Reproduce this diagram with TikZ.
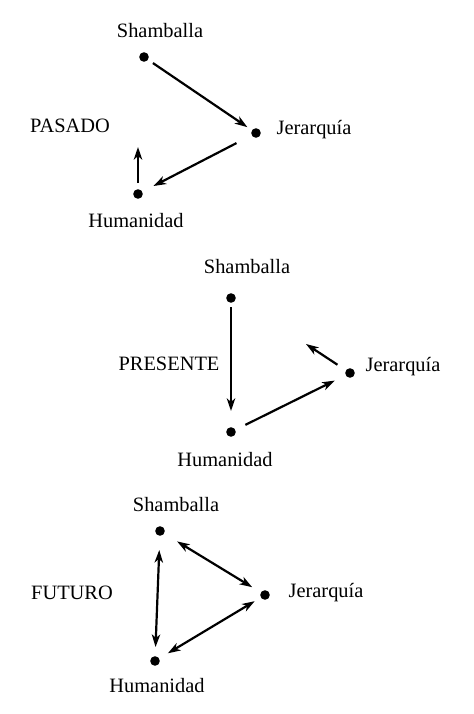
\documentclass[tikz,border=0pt]{standalone}
\usepackage{fontspec}
\setmainfont{Liberation Serif}
\usetikzlibrary{arrows.meta}
\begin{document}
\begin{tikzpicture}[x=0.5pt,y=-0.5pt,
  dot/.style={circle,fill=black,inner sep=0pt,minimum size=4.8pt,outer sep=0pt},
  lbl/.style={inner sep=0pt,font=\fontsize{10.2}{12}\selectfont},
  tip/.style={Stealth[length=6.3pt,width=4.2pt,inset=1.8pt]},
  arr/.style={line width=1.1pt,-{Stealth[length=6.3pt,width=4.2pt,inset=1.8pt]}},
  darr/.style={line width=1.1pt,{Stealth[length=6.3pt,width=4.2pt,inset=1.8pt]}-{Stealth[length=6.3pt,width=4.2pt,inset=1.8pt]}}]
\useasboundingbox (0,0) rectangle (474,714);
% ---------- PASADO ----------
\node[dot] (s1) at (144,57) {};
\node[dot] (j1) at (256,133) {};
\node[dot] (h1) at (138,194) {};
\node[lbl] (ts1) at (160,31) {Shamballa};
\node[lbl] (tj1) at (314,130) {Jerarquía};
\node[lbl] (th1) at (136,221) {Humanidad};
\node[lbl] (tp1) at (70,126) {PASADO};
\coordinate (u1) at (138,147);
\draw[arr,shorten <=3pt,shorten >=2.8pt] (s1) -- (j1);
\draw[arr,shorten <=8.6pt,shorten >=6.3pt] (j1) -- (h1);
\draw[arr,shorten <=3.1pt] (h1) -- (u1);
% ---------- PRESENTE ----------
\node[dot] (s2) at (231,298) {};
\node[dot] (j2) at (350,373) {};
\node[dot] (h2) at (231,432) {};
\node[lbl] (ts2) at (247,267) {Shamballa};
\node[lbl] (tj2) at (403,367) {Jerarquía};
\node[lbl] (th2) at (225,460) {Humanidad};
\node[lbl] (tp2) at (169,364) {PRESENTE};
\coordinate (u2) at (306,344);
\draw[arr,shorten <=2.1pt,shorten >=8.1pt] (s2) -- (h2);
\draw[arr,shorten <=5.6pt,shorten >=6.1pt] (h2) -- (j2);
\draw[arr,shorten <=5.1pt] (j2) -- (u2);
% ---------- FUTURO ----------
\node[dot] (s3) at (160,531) {};
\node[dot] (j3) at (265,595) {};
\node[dot] (h3) at (155,661) {};
\node[lbl] (ts3) at (176,505) {Shamballa};
\node[lbl] (tj3) at (326,593) {Jerarquía};
\node[lbl] (th3) at (157,686) {Humanidad};
\node[lbl] (tp3) at (72,593) {FUTURO};
\draw[darr,shorten <=7.1pt,shorten >=4.6pt] (s3) -- (h3);
\draw[darr,shorten <=7.6pt,shorten >=5.1pt] (s3) -- (j3);
\draw[darr,shorten <=3.6pt,shorten >=5.1pt] (j3) -- (h3);
\end{tikzpicture}
\end{document}
